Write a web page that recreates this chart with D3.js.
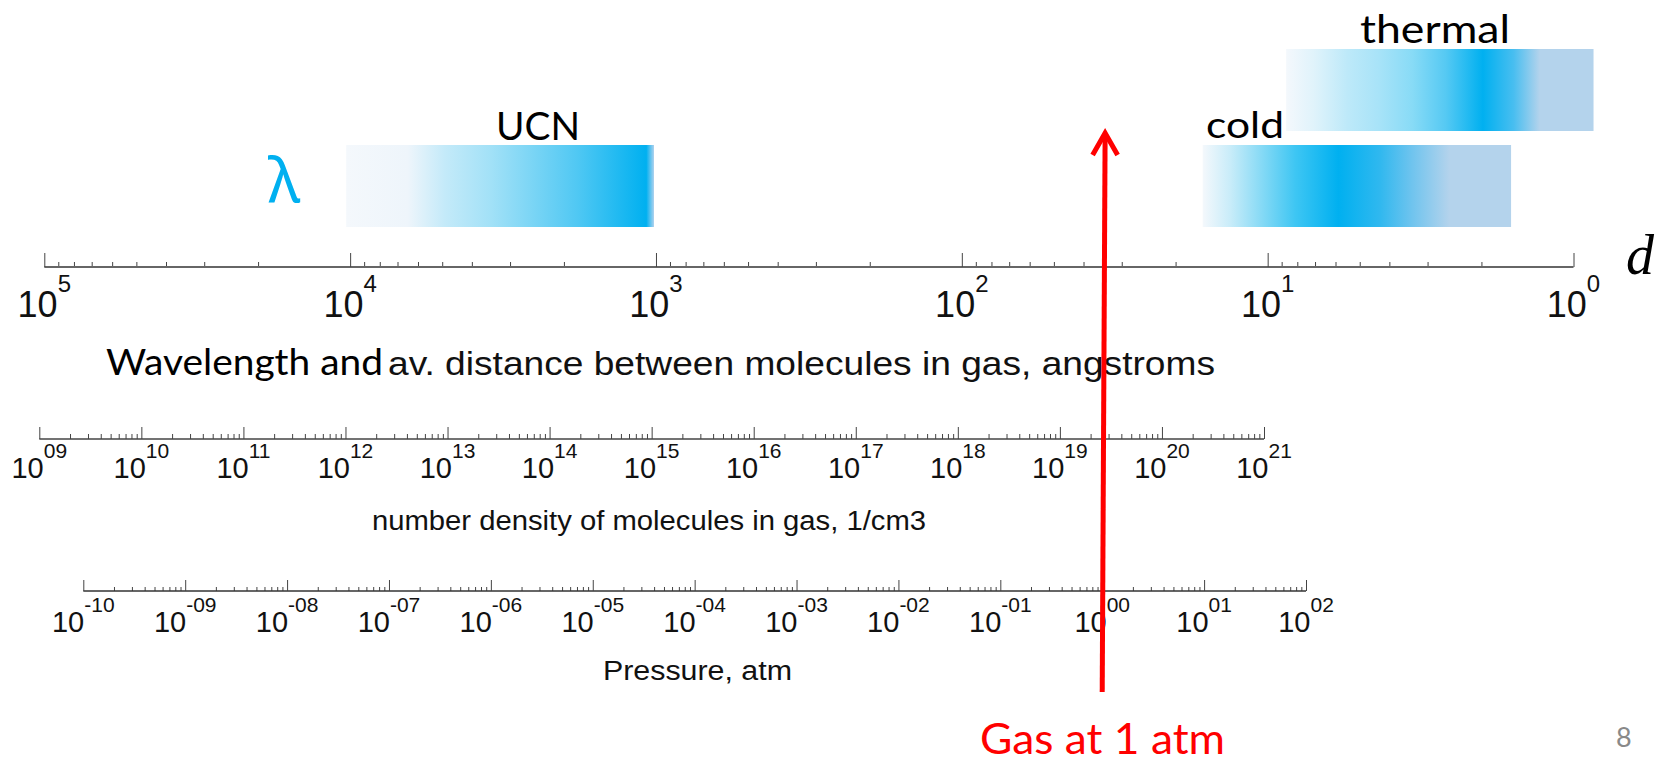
<!DOCTYPE html>
<html>
<head>
<meta charset="utf-8">
<script src="https://cdn.jsdelivr.net/npm/d3@7"></script>
<style>
  html, body { margin: 0; padding: 0; background: #fff; }
  svg { display: block; }
</style>
</head>
<body>
<svg id="chart" width="1667" height="761"></svg>
<script>
// --- data -------------------------------------------------------------
// wavelength / mean distance between molecules, angstroms (decreasing to the right)
const distanceMajor = [1e5, 1e4, 1e3, 1e2, 1e1, 1e0];
const distanceExp = ['5', '4', '3', '2', '1', '0'];

// number density of molecules, 1/cm3
const densityMajor = [1e9, 1e10, 1e11, 1e12, 1e13, 1e14, 1e15, 1e16, 1e17, 1e18, 1e19, 1e20, 1e21];
const densityExp = ['09', '10', '11', '12', '13', '14', '15', '16', '17', '18', '19', '20', '21'];

// pressure, atm
const pressureMajor = [1e-10, 1e-9, 1e-8, 1e-7, 1e-6, 1e-5, 1e-4, 1e-3, 1e-2, 1e-1, 1e0, 1e1, 1e2];
const pressureExp = ['-10', '-09', '-08', '-07', '-06', '-05', '-04', '-03', '-02', '-01', '00', '01', '02'];

// neutron wavelength bands (angstroms)
const bandNames = ['UCN', 'cold', 'thermal'];
const bandFrom = [10300, 16.3, 8.7];
const bandTo = [1015, 1.6, 0.86];

// gas at 1 atm marker
const gasPressure = 1;     // atm
const gasSpacing = 34;     // angstroms

// --- styles -----------------------------------------------------------
const blue = '#00b0f0';
const bandStops = {
  UCN: [[0, '#f4f8fc'], [0.2, '#eef5fb'], [0.32, '#c4eaf9'], [0.47, '#a2e1f7'],
        [0.75, '#50c8f3'], [0.975, '#00b0f0'], [1, '#b0d2ee']],
  cold: [[0, '#f4f8fc'], [0.09, '#c8ecf9'], [0.2, '#80d8f5'], [0.3, '#3ec6f3'],
         [0.44, '#00b0f0'], [0.575, '#30b8ef'], [0.68, '#70c4ee'], [0.8, '#b4d3ec'], [1, '#b4d3ec']],
  thermal: [[0, '#f4f8fc'], [0.09, '#e0f3fb'], [0.2, '#bde9f9'], [0.3, '#a8e3f8'],
            [0.41, '#88dbf6'], [0.52, '#55c9f3'], [0.64, '#00b0f0'], [0.74, '#48bef0'],
            [0.825, '#b4d3ec'], [1, '#b4d3ec']]
};
const bandRows = {UCN: [145, 227], cold: [145, 227], thermal: [49, 131]};

const svg = d3.select('#chart');
const defs = svg.append('defs');

// scales
const xDist = d3.scaleLog().domain([1e5, 1]).range([44.3, 1573.5]);
const xDens = d3.scaleLog().domain([1e9, 1e21]).range([39.3, 1264]);
const xPres = d3.scaleLog().domain([1e-10, 1e2]).range([83.3, 1306]);

function drawAxis(scale, y, majors, exps, o) {
  const g = svg.append('g').attr('transform', `translate(0,${y})`);
  const minors = scale.ticks(60).filter(v => !majors.some(m => Math.abs(Math.log10(v) - Math.log10(m)) < 1e-6));

  g.append('g')
    .call(d3.axisTop(scale).tickValues(minors).tickSize(o.minor).tickSizeOuter(0).tickFormat(''))
    .call(s => s.select('.domain').remove())
    .selectAll('line').attr('stroke', '#444').attr('stroke-width', 1);

  g.append('g')
    .call(d3.axisTop(scale).tickValues(majors).tickSize(o.major).tickSizeOuter(0).tickFormat(''))
    .call(s => s.select('.domain')
      .attr('d', `M${scale.range()[0]},0H${scale.range()[1]}`)
      .attr('stroke', o.lineColor).attr('stroke-width', o.lineWidth))
    .selectAll('.tick line').attr('stroke', '#444').attr('stroke-width', 1);

  const lab = svg.append('g')
    .attr('font-family', '"Liberation Sans", Arial, sans-serif')
    .attr('fill', '#111');
  majors.forEach((v, i) => {
    const t = lab.append('text')
      .attr('x', scale(v))
      .attr('y', o.baseline)
      .attr('text-anchor', 'middle');
    t.append('tspan').attr('font-size', o.size).text('10');
    t.append('tspan').attr('font-size', o.supSize).attr('dy', -o.supRise).text(exps[i]);
  });
}

drawAxis(xDist, 267, distanceMajor, distanceExp,
  {major: 14, minor: 5, lineColor: '#666', lineWidth: 2, baseline: 317, size: 36, supSize: 24, supRise: 25});
drawAxis(xDens, 439, densityMajor, densityExp,
  {major: 12, minor: 5, lineColor: '#444', lineWidth: 1.5, baseline: 478, size: 29, supSize: 21, supRise: 20});
drawAxis(xPres, 591, pressureMajor, pressureExp,
  {major: 11, minor: 4, lineColor: '#333', lineWidth: 1.5, baseline: 632, size: 29, supSize: 21, supRise: 20});

// bands
bandNames.forEach((name, i) => {
  const grad = defs.append('linearGradient').attr('id', 'g-' + name)
    .attr('x1', '0%').attr('x2', '100%').attr('y1', '0%').attr('y2', '0%');
  bandStops[name].forEach(([off, c]) => grad.append('stop').attr('offset', off).attr('stop-color', c));
  const x0 = xDist(bandFrom[i]), x1 = xDist(bandTo[i]);
  const [y0, y1] = bandRows[name];
  svg.append('rect')
    .attr('x', x0).attr('y', y0)
    .attr('width', x1 - x0).attr('height', y1 - y0)
    .attr('fill', `url(#g-${name})`);
});

// labels in slide font
const sans = 'Lato, "Open Sans", sans-serif';
function label(txt, x, y, size, len, color) {
  return svg.append('text')
    .attr('x', x).attr('y', y)
    .attr('font-family', sans).attr('font-size', size)
    .attr('fill', color || '#000')
    .attr('textLength', len).attr('lengthAdjust', 'spacingAndGlyphs')
    .text(txt);
}
label('UCN', 496, 140, 39, 84);
label('cold', 1206, 138, 37, 78);
label('thermal', 1360, 43, 39, 150);
label('Wavelength and', 106, 375, 37, 277);

svg.append('text')
  .attr('x', 268).attr('y', 202)
  .attr('font-family', '"Noto Sans", sans-serif').attr('font-size', 62)
  .attr('fill', blue).text('λ');

svg.append('text')
  .attr('x', 1626).attr('y', 274)
  .attr('font-family', '"Liberation Serif", serif').attr('font-style', 'italic')
  .attr('font-size', 56).attr('fill', '#000').text('d');

// axis titles
const arial = '"Liberation Sans", Arial, sans-serif';
function title(txt, x, y, size, len) {
  svg.append('text')
    .attr('x', x).attr('y', y)
    .attr('font-family', arial).attr('font-size', size).attr('fill', '#111')
    .attr('textLength', len).attr('lengthAdjust', 'spacingAndGlyphs')
    .text(txt);
}
title('av. distance between molecules in gas, angstroms', 388, 375, 34, 827);
title('number density of molecules in gas, 1/cm3', 372, 530, 27, 554);
title('Pressure, atm', 603, 680, 27, 189);

// gas at 1 atm arrow
const red = '#ff0000';
const bx = xPres(gasPressure), by = 692;
const tx = xDist(gasSpacing), ty = 133;
const arrow = svg.append('g').attr('stroke', red).attr('stroke-width', 5).attr('fill', 'none');
arrow.append('line').attr('x1', bx).attr('y1', by).attr('x2', tx).attr('y2', ty + 2);
arrow.append('path')
  .attr('stroke-linejoin', 'miter')
  .attr('d', `M${tx - 12.5},${ty + 22}L${tx},${ty}L${tx + 12.5},${ty + 22}`);

label('Gas at 1 atm', 980, 754, 42, 245, red);

// slide number
svg.append('text')
  .attr('x', 1616).attr('y', 747)
  .attr('font-family', sans).attr('font-size', 27)
  .attr('fill', '#898989').text('8');
</script>
</body>
</html>
